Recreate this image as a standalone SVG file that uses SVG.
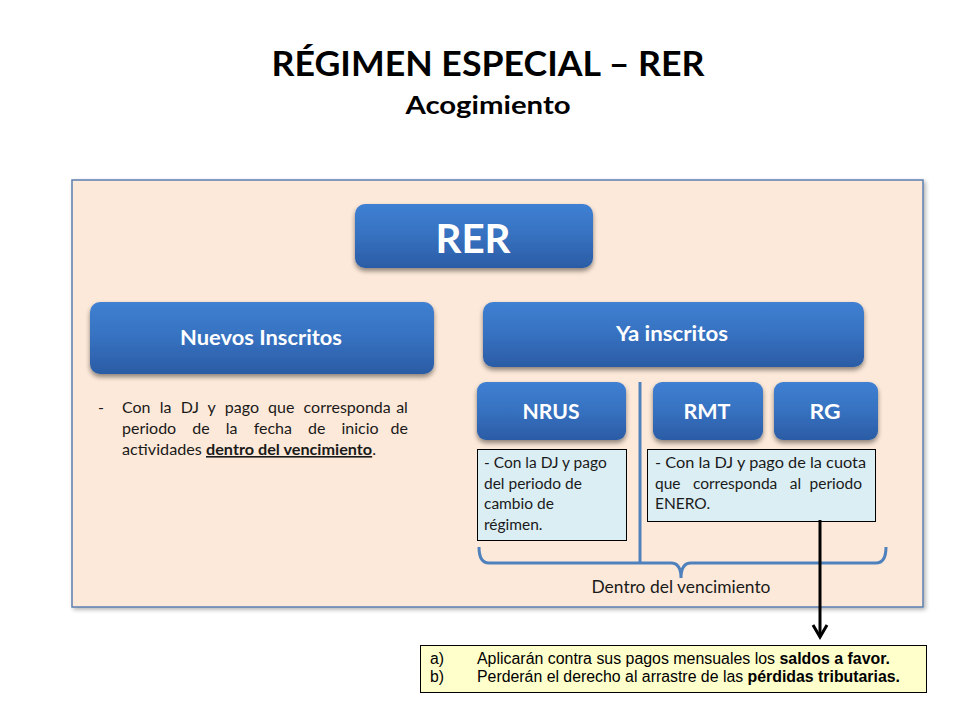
<svg xmlns="http://www.w3.org/2000/svg" width="960" height="720" viewBox="0 0 960 720">
<defs>
  <linearGradient id="blue" x1="0" y1="0" x2="0" y2="1">
    <stop offset="0" stop-color="#3f80d2"/>
    <stop offset="0.5" stop-color="#3671c0"/>
    <stop offset="1" stop-color="#2b5ca5"/>
  </linearGradient>
  <filter id="sh" x="-10%" y="-20%" width="120%" height="150%">
    <feGaussianBlur in="SourceAlpha" stdDeviation="2.5"/>
    <feOffset dx="0" dy="3" result="b"/>
    <feComponentTransfer><feFuncA type="linear" slope="0.45"/></feComponentTransfer>
    <feMerge><feMergeNode/><feMergeNode in="SourceGraphic"/></feMerge>
  </filter>
  <filter id="psh" x="-5%" y="-5%" width="110%" height="110%">
    <feGaussianBlur in="SourceAlpha" stdDeviation="2"/>
    <feOffset dx="2" dy="2"/>
    <feComponentTransfer><feFuncA type="linear" slope="0.3"/></feComponentTransfer>
    <feMerge><feMergeNode/><feMergeNode in="SourceGraphic"/></feMerge>
  </filter>
  <style>
    .c{font-family:Lato,"Noto Sans","Liberation Sans",sans-serif}
    .btn{fill:url(#blue);filter:url(#sh)}
    .bt{font-family:Lato,"Noto Sans","Liberation Sans",sans-serif;font-weight:bold;fill:#fff;text-anchor:middle}
    .note{fill:#dbeef4;stroke:#000;stroke-width:1}
    .nt{font-family:Lato,"Noto Sans","Liberation Sans",sans-serif;font-size:15.5px;fill:#1a1a1a}
    .ar{font-family:"Liberation Sans",Arial,sans-serif;font-size:15.8px;fill:#000}
  </style>
</defs>
<rect width="960" height="720" fill="#fff"/>

<g id="title">
  <text class="c" x="488" y="76" font-size="34" font-weight="bold" text-anchor="middle" textLength="433" lengthAdjust="spacingAndGlyphs">RÉGIMEN ESPECIAL – RER</text>
  <text class="c" x="488" y="114" font-size="25" font-weight="bold" text-anchor="middle" textLength="165" lengthAdjust="spacingAndGlyphs">Acogimiento</text>
</g>

<g id="panel">
  <rect x="72" y="180" width="851" height="427" fill="#fde9d9" stroke="#5b7fae" stroke-width="1.5" filter="url(#psh)"/>
</g>

<g id="rer">
  <rect class="btn" x="355" y="204" width="238" height="64" rx="10"/>
  <text class="bt" x="473" y="253" font-size="40" textLength="75" lengthAdjust="spacingAndGlyphs">RER</text>
</g>

<g id="nuevos">
  <rect class="btn" x="90" y="302" width="344" height="72" rx="10"/>
  <text class="bt" x="261" y="345" font-size="20" textLength="162" lengthAdjust="spacingAndGlyphs">Nuevos Inscritos</text>
</g>

<g id="nuevos-note">
  <text class="c" font-size="16" fill="#1a1a1a">
    <tspan x="98" y="413">-</tspan>
    <tspan x="122" y="413">Con</tspan>
    <tspan x="159.7" y="413">la</tspan>
    <tspan x="180.7" y="413">DJ</tspan>
    <tspan x="207.6" y="413">y</tspan>
    <tspan x="224.8" y="413">pago</tspan>
    <tspan x="268.1" y="413">que</tspan>
    <tspan x="303.6" y="413">corresponda</tspan>
    <tspan x="412" y="413" text-anchor="end">al</tspan>
    <tspan x="122" y="434">periodo</tspan>
    <tspan x="192.2" y="434">de</tspan>
    <tspan x="225.7" y="434">la</tspan>
    <tspan x="253.7" y="434">fecha</tspan>
    <tspan x="308" y="434">de</tspan>
    <tspan x="341.5" y="434">inicio</tspan>
    <tspan x="412" y="434" text-anchor="end">de</tspan>
    <tspan x="122" y="455" textLength="254" lengthAdjust="spacingAndGlyphs">actividades <tspan font-weight="bold" text-decoration="underline">dentro del vencimiento</tspan>.</tspan>
  </text>
</g>

<g id="ya">
  <rect class="btn" x="483" y="302" width="381" height="65" rx="10"/>
  <text class="bt" x="672" y="341" font-size="20" textLength="112" lengthAdjust="spacingAndGlyphs">Ya inscritos</text>
</g>

<g id="nrus">
  <rect class="btn" x="477" y="382" width="149" height="58" rx="9"/>
  <text class="bt" x="551" y="419" font-size="20" textLength="57" lengthAdjust="spacingAndGlyphs">NRUS</text>
</g>

<g id="rmt">
  <rect class="btn" x="653" y="382" width="110" height="58" rx="9"/>
  <text class="bt" x="707" y="419" font-size="20" textLength="47" lengthAdjust="spacingAndGlyphs">RMT</text>
</g>

<g id="rg">
  <rect class="btn" x="774" y="382" width="104" height="58" rx="9"/>
  <text class="bt" x="825" y="419" font-size="20" textLength="31" lengthAdjust="spacingAndGlyphs">RG</text>
</g>

<g id="nrus-note">
  <rect class="note" x="477.5" y="449.5" width="149" height="91"/>
  <text class="nt">
    <tspan x="484" y="468">- Con la DJ y pago</tspan>
    <tspan x="484" y="489">del periodo de</tspan>
    <tspan x="484" y="509">cambio de</tspan>
    <tspan x="484" y="530">régimen.</tspan>
  </text>
</g>

<g id="rmt-note">
  <rect class="note" x="647.5" y="449.5" width="228" height="72"/>
  <text class="nt">
    <tspan x="655" y="468" textLength="211" lengthAdjust="spacingAndGlyphs">- Con la DJ y pago de la cuota</tspan>
    <tspan x="655" y="489">que</tspan>
    <tspan x="692.9" y="489">corresponda</tspan>
    <tspan x="789.8" y="489">al</tspan>
    <tspan x="866" y="489" text-anchor="end">periodo</tspan>
    <tspan x="655" y="509">ENERO.</tspan>
  </text>
</g>

<g id="connectors">
  <line x1="640" y1="382" x2="640" y2="563" stroke="#4f81bd" stroke-width="3"/>
  <path d="M479 547 Q479 563 489 563 L671 563 Q681 563 681 578 Q681 563 691 563 L876 563 Q886 563 886 547" fill="none" stroke="#4f81bd" stroke-width="3"/>
  <line x1="820" y1="520" x2="820" y2="636" stroke="#000" stroke-width="3"/>
  <path d="M813 625 L820 637 L827 625" fill="none" stroke="#000" stroke-width="3"/>
</g>

<g id="brace-label">
  <text class="c" x="681" y="593" font-size="17" fill="#1a1a1a" text-anchor="middle" textLength="179" lengthAdjust="spacingAndGlyphs">Dentro del vencimiento</text>
</g>

<g id="result">
  <rect x="420.5" y="645.5" width="506" height="47" fill="#ffffcc" stroke="#000" stroke-width="1"/>
  <text class="ar">
    <tspan x="430" y="664">a)</tspan>
    <tspan x="477" y="664" textLength="413" lengthAdjust="spacingAndGlyphs">Aplicarán contra sus pagos mensuales los <tspan font-weight="bold">saldos a favor.</tspan></tspan>
    <tspan x="430" y="682">b)</tspan>
    <tspan x="477" y="682" textLength="423" lengthAdjust="spacingAndGlyphs">Perderán el derecho al arrastre de las <tspan font-weight="bold">pérdidas tributarias.</tspan></tspan>
  </text>
</g>
</svg>
